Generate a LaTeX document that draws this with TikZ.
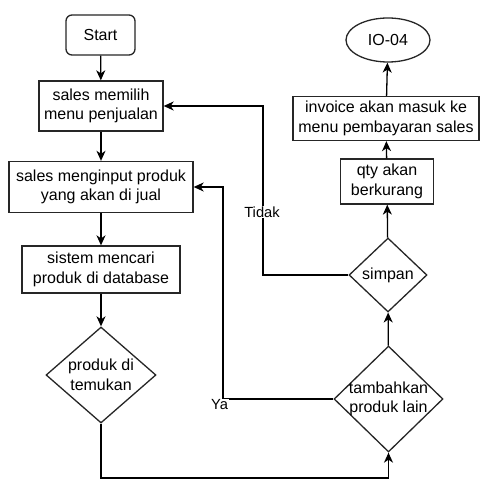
\documentclass[tikz,border=0pt]{standalone}
\usepackage{fontspec}
\setmainfont{Liberation Sans}
\usetikzlibrary{shapes.geometric,arrows.meta}

\begin{document}
\begin{tikzpicture}[x=1pt,y=-1pt,
  every node/.style={font=\fontsize{16}{19.5}\selectfont, align=center, inner sep=0pt},
  procbox/.style={draw=black!85, line width=1.3pt, rectangle, fill=white},
  startbox/.style={procbox, rounded corners=6pt},
  decision/.style={draw=black!85, line width=1.3pt, diamond, fill=white},
  terminal/.style={draw=black!85, line width=1.3pt, ellipse, fill=white},
  flow/.style={line width=1.3pt, -{Stealth[length=10pt,width=9pt,inset=3pt]}},
  edgelabel/.style={font=\fontsize{14.7}{17}\selectfont, fill=white, inner sep=1pt}
]
\useasboundingbox (0,0) rectangle (481,481);

% left column
\node[startbox, minimum width=69pt, minimum height=40pt] (start) at (100.5,35) {Start};
\node[procbox, minimum width=124pt, minimum height=50pt] (pilih) at (101,106) {sales memilih\\menu penjualan};
\node[procbox, minimum width=184pt, minimum height=51pt] (input) at (101,187) {sales menginput produk\\yang akan di jual};
\node[procbox, minimum width=158pt, minimum height=47pt] (cari) at (101,269.5) {sistem mencari\\produk di database};
\node[decision, minimum width=110pt, minimum height=96pt,
      label={[align=center]center:produk di\\temukan}] (temu) at (101,375) {};

% right column
\node[decision, minimum width=109pt, minimum height=106pt,
      label={[align=center]center:tambahkan\\produk lain}] (tambah) at (388.5,399) {};
\node[decision, minimum width=78pt, minimum height=74pt,
      label={center:simpan}] (simpan) at (388,275) {};
\node[procbox, minimum width=93pt, minimum height=45pt] (qty) at (387,181.5) {qty akan\\berkurang};
\node[procbox, minimum width=186pt, minimum height=44pt] (invoice) at (386,118.5) {invoice akan masuk ke\\menu pembayaran sales};
\node[terminal, minimum width=84pt, minimum height=44pt] (io) at (388,40) {IO-04};

% routing columns for the loop-back lines
\coordinate (tidakx) at (263,0);
\coordinate (yax) at (223,0);
\coordinate (bottom) at (0,478);

% main flow
\draw[flow] (start) -- (pilih);
\draw[flow] (pilih) -- (input);
\draw[flow] (input) -- (cari);
\draw[flow] (cari) -- (temu);
\draw[flow] (temu.south) -- (temu.south |- bottom) -| (tambah.south);
\draw[flow] (tambah) -- (simpan);
\draw[flow] (simpan) -- (qty);
\draw[flow] (qty) -- (invoice);
\draw[flow] (invoice) -- (io);

% loop-backs
\draw[flow] (simpan.west) -- (simpan.west -| tidakx) |- (pilih.east);
\draw[flow] (tambah.west) -- (tambah.west -| yax) |- (input.east);

\node[edgelabel] (tidak) at (262,212) {Tidak};
\node[edgelabel] (ya) at (219.5,405) {Ya};
\end{tikzpicture}
\end{document}
